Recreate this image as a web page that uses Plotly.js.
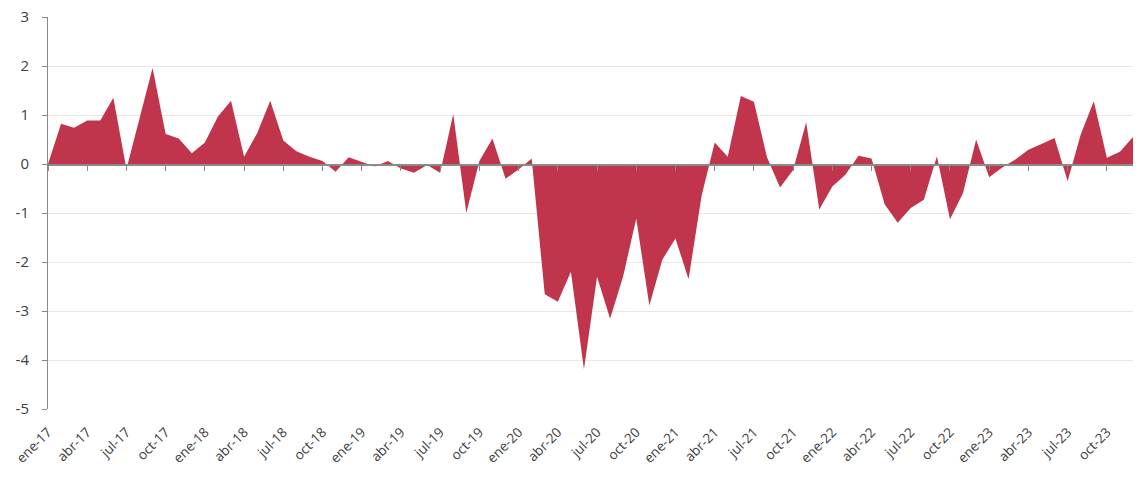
<!DOCTYPE html>
<html>
<head>
<meta charset="utf-8">
<script src="https://cdn.plot.ly/plotly-3.0.1.min.js"></script>
<style>html,body{margin:0;padding:0;background:#fff;}#chart{width:1147px;height:481px;}</style>
</head>
<body>
<div id="chart"></div>
<script>
const monthNames = ['ene','feb','mar','abr','may','jun','jul','ago','sep','oct','nov','dic'];
const years = ['17','18','19','20','21','22','23'];
const values = [
  0.00, 0.82, 0.74, 0.89, 0.89, 1.35, -0.10, 0.93, 1.96, 0.61, 0.52, 0.22,
  0.44, 0.97, 1.29, 0.15, 0.63, 1.29, 0.48, 0.26, 0.15, 0.06, -0.16, 0.14,
  0.04, -0.05, 0.06, -0.09, -0.18, -0.02, -0.18, 1.02, -1.00, 0.06, 0.52, -0.30,
  -0.11, 0.11, -2.66, -2.81, -2.20, -4.19, -2.30, -3.16, -2.29, -1.11, -2.89, -1.95,
  -1.52, -2.35, -0.65, 0.44, 0.15, 1.39, 1.27, 0.14, -0.48, -0.12, 0.85, -0.93,
  -0.46, -0.22, 0.17, 0.11, -0.82, -1.20, -0.90, -0.73, 0.16, -1.13, -0.59, 0.50,
  -0.27, -0.07, 0.09, 0.29, 0.41, 0.53, -0.35, 0.60, 1.28, 0.13, 0.25, 0.55
];
const yTickVals = [3, 2, 1, 0, -1, -2, -3, -4, -5];
const yTickText = ['3', '2', '1', '0', '-1', '-2', '-3', '-4', '-5'];
const categories = [];
years.forEach(y => monthNames.forEach(m => categories.push(m + '-' + y)));
const tickLabels = categories.filter((c, i) => i % 3 === 0);

const fillColor = 'rgb(192,53,75)';
const traces = [
  {x: categories, y: values, type: 'scatter', mode: 'lines', fill: 'tozeroy',
   fillcolor: fillColor, line: {width: 0, color: fillColor}, hoverinfo: 'x+y', xaxis: 'x', yaxis: 'y'},
  {x: categories, y: values, type: 'scatter', mode: 'lines', opacity: 0,
   line: {width: 0}, hoverinfo: 'skip', xaxis: 'x2', yaxis: 'y2', showlegend: false}
];
const layout = {
  width: 1147, height: 481,
  margin: {l: 48, r: 14, t: 17, b: 72},
  paper_bgcolor: '#fff', plot_bgcolor: '#fff',
  showlegend: false,
  font: {family: '"Open Sans", "Noto Sans", sans-serif', color: '#404040'},
  xaxis: {
    type: 'category', range: [0, 83],
    tickvals: tickLabels, ticktext: tickLabels,
    tickangle: -45, tickfont: {size: 13.5, color: '#404040'},
    showgrid: false, showline: false, zeroline: false,
    ticks: 'outside', ticklen: 9, tickcolor: 'rgba(0,0,0,0)'
  },
  xaxis2: {
    type: 'category', range: [0, 83], overlaying: 'x', anchor: 'free', position: 0.625,
    tickvals: tickLabels, showticklabels: false,
    showgrid: false, showline: true, linecolor: '#8a8a8a', linewidth: 1.5,
    ticks: 'outside', ticklen: 5, tickcolor: '#8a8a8a', tickwidth: 1, zeroline: false
  },
  yaxis: {
    range: [-5, 3], tickmode: 'array', tickvals: yTickVals, ticktext: yTickText,
    showgrid: true, gridcolor: '#ebe8df', gridwidth: 1,
    zeroline: false, showline: false,
    ticks: 'outside', ticklen: 15, tickcolor: 'rgba(0,0,0,0)',
    tickfont: {size: 15, color: '#404040'}
  },
  yaxis2: {
    range: [-5, 3], tickmode: 'array', tickvals: yTickVals, overlaying: 'y', anchor: 'x', side: 'left',
    showgrid: false, zeroline: false, showticklabels: false,
    showline: true, linecolor: '#8a8a8a', linewidth: 1,
    ticks: 'outside', ticklen: 5, tickcolor: '#8a8a8a'
  }
};
Plotly.newPlot('chart', traces, layout, {displayModeBar: false, staticPlot: true});
</script>
</body>
</html>
